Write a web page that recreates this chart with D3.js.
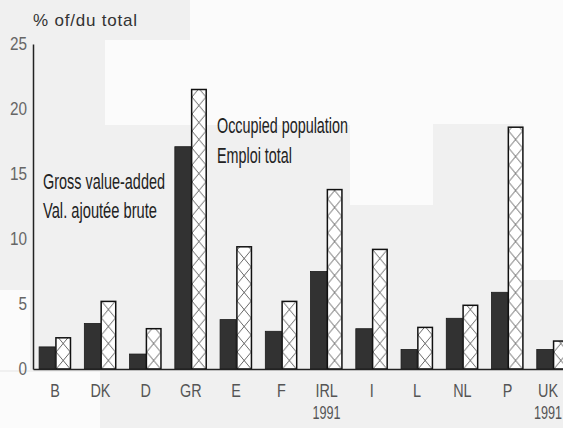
<!DOCTYPE html>
<html>
<head>
<meta charset="utf-8">
<script src="https://cdnjs.cloudflare.com/ajax/libs/d3/7.8.5/d3.min.js"></script>
<style>
  body { margin: 0; background: #fff; }
  svg { display: block; font-family: "Liberation Sans", Arial, sans-serif; }
</style>
</head>
<body>
<div id="chart"></div>
<script>
const categories = ['B', 'DK', 'D', 'GR', 'E', 'F', 'IRL', 'I', 'L', 'NL', 'P', 'UK'];
const subLabels = ['', '', '', '', '', '', '1991', '', '', '', '', '1991'];
const grossValueAdded = [1.7, 3.5, 1.15, 17.1, 3.8, 2.9, 7.5, 3.1, 1.5, 3.9, 5.9, 1.5];
const occupiedPopulation = [2.4, 5.2, 3.1, 21.5, 9.4, 5.2, 13.8, 9.2, 3.2, 4.9, 18.6, 2.15];
const yTicks = [0, 5, 10, 15, 20, 25];

const width = 563;
const height = 428;
const x0 = 33, y0 = 369, yTop = 44;

const svg = d3.select('#chart').append('svg')
    .attr('width', width)
    .attr('height', height);

// scanned paper look: light grey blocks
const bg = svg.append('g');
bg.append('rect').attr('width', width).attr('height', height).attr('fill', '#f0f0f0');
[[105, 40, 245, 85], [350, 0, 213, 124], [350, 124, 83, 81], [523, 124, 40, 156], [190, 0, 160, 40], [0, 372, 100, 56], [0, 290, 30, 80]]
    .forEach(r => {
        bg.append('rect').attr('x', r[0]).attr('y', r[1]).attr('width', r[2]).attr('height', r[3]).attr('fill', '#fbfbfb');
    });

const xScale = d3.scaleBand()
    .domain(categories)
    .range([x0, 575])
    .paddingInner(0.29)
    .paddingOuter(0.135);

const xSub = d3.scaleBand()
    .domain(['gva', 'emp'])
    .range([0, xScale.bandwidth()]);

const yScale = d3.scaleLinear()
    .domain([0, 25])
    .range([y0, yTop]);

const bw = xSub.bandwidth();
const ph = 34; // hatch repeat height

// cross-hatch pattern for the employment bars
const defs = svg.append('defs');
const pat = defs.append('pattern')
    .attr('id', 'hatch')
    .attr('patternUnits', 'userSpaceOnUse')
    .attr('x', xScale(categories[0]) + xSub('emp'))
    .attr('y', yScale(0))
    .attr('width', xScale.step())
    .attr('height', ph);
pat.append('rect').attr('width', xScale.step()).attr('height', ph).attr('fill', '#fff');
pat.append('path')
    .attr('d', `M1,0 L${bw - 1},${ph / 2} L1,${ph} M${bw - 1},0 L1,${ph / 2} L${bw - 1},${ph}`)
    .attr('fill', 'none')
    .attr('stroke', '#555')
    .attr('stroke-width', 0.9);

const bars = svg.append('g');
categories.forEach((c, i) => {
    bars.append('rect')
        .attr('x', xScale(c) + xSub('gva'))
        .attr('y', yScale(grossValueAdded[i]))
        .attr('width', bw)
        .attr('height', yScale(0) - yScale(grossValueAdded[i]))
        .attr('fill', '#323232')
        .attr('stroke', '#1a1a1a')
        .attr('stroke-width', 0.8);

    bars.append('rect')
        .attr('x', xScale(c) + xSub('emp') + 0.75)
        .attr('y', yScale(occupiedPopulation[i]))
        .attr('width', bw - 1.5)
        .attr('height', yScale(0) - yScale(occupiedPopulation[i]))
        .attr('fill', 'url(#hatch)')
        .attr('stroke', '#111')
        .attr('stroke-width', 1.5);
});

// Axes
const sy = 0.85;
const yAxis = d3.axisLeft(yScale).tickValues(yTicks).tickSize(0).tickSizeOuter(0).tickPadding(0);
const yAxisG = svg.append('g').attr('transform', `translate(${x0}, 0)`).call(yAxis);
yAxisG.select('.domain').attr('stroke', '#222').attr('stroke-width', 1.5);
yAxisG.selectAll('text')
    .attr('x', -6 / sy)
    .attr('transform', `scale(${sy}, 1)`)
    .attr('font-size', 18)
    .attr('fill', '#666');

const xAxis = d3.axisBottom(xScale).tickSize(0).tickSizeOuter(0).tickPadding(15);
const xAxisG = svg.append('g').attr('transform', `translate(0, ${y0})`).call(xAxis);
xAxisG.select('.domain').attr('stroke', '#222').attr('stroke-width', 1.5);
xAxisG.selectAll('.tick text')
    .attr('font-size', 18)
    .attr('fill', '#555')
    .attr('transform', 'scale(0.8, 1)');
xAxisG.selectAll('.tick').each(function (d, i) {
    if (subLabels[i]) {
        d3.select(this).append('text')
            .attr('y', 50)
            .attr('fill', '#555')
            .attr('font-size', 18)
            .attr('text-anchor', 'middle')
            .attr('transform', 'scale(0.7, 1)')
            .text(subLabels[i]);
    }
});
// keep the last labels inside the picture
xAxisG.selectAll('.tick').each(function () {
    const box = this.getBoundingClientRect();
    if (box.right > width - 1) {
        const t = d3.select(this).attr('transform');
        const tx = +t.match(/translate\(([-\d.]+)/)[1];
        d3.select(this).attr('transform', `translate(${tx - (box.right - width + 1)},0)`);
    }
});

// Titles and labels
svg.append('text')
    .attr('x', 33).attr('y', 26)
    .attr('font-size', 17)
    .attr('fill', '#333')
    .attr('textLength', 104)
    .text('% of/du total');

const notes = [
    { t: 'Gross value-added', x: 43, y: 189, len: 122 },
    { t: 'Val. ajoutée brute', x: 43, y: 218, len: 114 },
    { t: 'Occupied population', x: 217, y: 133, len: 131 },
    { t: 'Emploi total', x: 217, y: 163, len: 75 }
];
notes.forEach(n => {
    svg.append('text')
        .attr('x', n.x).attr('y', n.y)
        .attr('font-size', 22)
        .attr('fill', '#222')
        .attr('textLength', n.len)
        .attr('lengthAdjust', 'spacingAndGlyphs')
        .text(n.t);
});
</script>
</body>
</html>
